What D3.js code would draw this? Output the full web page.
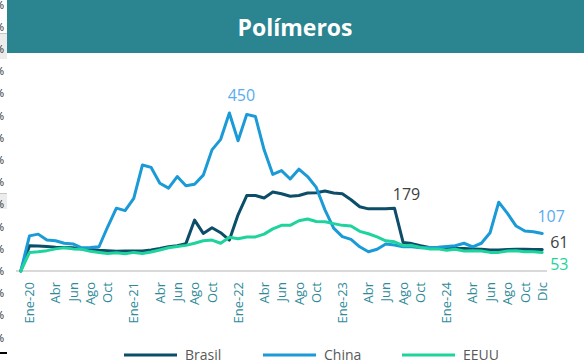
<!DOCTYPE html>
<html>
<head>
<meta charset="utf-8">
<script src="https://cdn.jsdelivr.net/npm/d3@7/dist/d3.min.js"></script>
<style>
  html, body { margin: 0; padding: 0; background: #ffffff; }
  svg { display: block; }
</style>
</head>
<body>
<svg id="chart" width="584" height="363"></svg>
<script>
// Monthly categories (Jan-2020 .. Dec-2024), preceded by an empty starting slot
const etiquetas = [
  "",
  "Ene-20", "", "", "Abr", "", "Jun", "", "Ago", "", "Oct", "", "",
  "Ene-21", "", "", "Abr", "", "Jun", "", "Ago", "", "Oct", "", "",
  "Ene-22", "", "", "Abr", "", "Jun", "", "Ago", "", "Oct", "", "",
  "Ene-23", "", "", "Abr", "", "Jun", "", "Ago", "", "Oct", "", "",
  "Ene-24", "", "", "Abr", "", "Jun", "", "Ago", "", "Oct", "", "Dic"
];

const brasil = [
  0,
  72, 71, 70, 68, 67, 66, 63, 61, 59, 58, 56, 57,
  57, 57, 60, 64, 69, 72, 78, 145, 107, 123, 109, 88,
  160, 215, 215, 208, 225, 220, 213, 215, 222, 223, 228, 222,
  220, 203, 183, 177, 177, 177, 179, 81, 78, 72, 67, 66,
  65, 64, 64, 63, 62, 60, 60, 61, 62, 62, 61, 61
];

const china = [
  0,
  100, 105, 88, 86, 79, 77, 66, 67, 69, 126, 179, 172,
  207, 302, 295, 250, 236, 269, 243, 247, 273, 345, 375, 450,
  371, 446, 440, 345, 275, 286, 262, 290, 269, 238, 174, 122,
  98, 90, 69, 55, 62, 77, 74, 69, 69, 66, 67, 68,
  70, 72, 79, 69, 79, 109, 196, 164, 128, 114, 112, 107
];

const eeuu = [
  0,
  53, 55, 58, 63, 66, 63, 62, 56, 53, 50, 52, 49,
  53, 50, 54, 60, 66, 70, 73, 79, 86, 88, 79, 96,
  92, 97, 97, 105, 120, 130, 130, 143, 148, 141, 140, 135,
  130, 128, 113, 106, 97, 86, 83, 72, 73, 67, 63, 63,
  59, 62, 57, 58, 57, 53, 53, 57, 58, 55, 55, 53
];

const seriesNombres = ["Brasil", "China", "EEUU"];
const seriesColores = ["#0c4d69", "#1a9ad6", "#1ed39c"];
const titulo = "Polímeros";

const svg = d3.select("#chart");
const FONT = "'Open Sans', 'DejaVu Sans', sans-serif";

// Spreadsheet fragments at the left edge
const edge = svg.append("g");
edge.append("rect").attr("x", 0).attr("y", 33).attr("width", 7).attr("height", 26).attr("fill", "#ececec");
edge.append("line").attr("x1", 0).attr("x2", 7).attr("y1", 33.5).attr("y2", 33.5).attr("stroke", "#c6c6c6");
edge.append("rect").attr("x", 0).attr("y", 193).attr("width", 7).attr("height", 16).attr("fill", "#ececec");
edge.append("line").attr("x1", 0).attr("x2", 7).attr("y1", 193.5).attr("y2", 193.5).attr("stroke", "#c6c6c6");
edge.append("rect").attr("x", 0).attr("y", 352).attr("width", 7).attr("height", 2).attr("fill", "#000");
edge.selectAll("text.pct").data(d3.range(16)).join("text")
  .attr("class", "pct")
  .attr("x", -5)
  .attr("y", k => 8.5 + k * 22.2)
  .attr("font-family", FONT).attr("font-size", 11).attr("fill", "#222")
  .text("%");

// Title band
svg.append("rect").attr("x", 7).attr("y", 0).attr("width", 577).attr("height", 53).attr("fill", "#2a8590");
svg.append("text")
  .attr("x", 295).attr("y", 36)
  .attr("text-anchor", "middle")
  .attr("font-family", FONT).attr("font-weight", 700).attr("font-size", 23)
  .attr("fill", "#ffffff")
  .text(titulo);

// Scales
const x = d3.scaleLinear().domain([0, etiquetas.length - 1]).range([20.8, 542.2]);
const y = d3.scaleLinear().domain([0, 450]).range([271, 113]);

// Category axis
svg.append("line")
  .attr("x1", 16).attr("x2", 547)
  .attr("y1", y(0)).attr("y2", y(0))
  .attr("stroke", "#d9d9d9").attr("stroke-width", 2);

const ticks = etiquetas.map((t, i) => ({ t, i })).filter(d => d.t !== "");
svg.append("g").selectAll("text").data(ticks).join("text")
  .attr("transform", d => `translate(${x(d.i)},${282}) rotate(-90)`)
  .attr("text-anchor", "end")
  .attr("dy", "0.36em")
  .attr("font-family", FONT).attr("font-size", 13)
  .attr("fill", "#2f8a9a")
  .text(d => d.t);

// Series lines
const datos = [brasil, china, eeuu];
const line = d3.line().x((d, i) => x(i)).y(d => y(d));
svg.append("g").selectAll("path").data(datos).join("path")
  .attr("d", line)
  .attr("fill", "none")
  .attr("stroke", (d, i) => seriesColores[i])
  .attr("stroke-width", 3)
  .attr("stroke-linejoin", "round")
  .attr("stroke-linecap", "round");

// Value annotations
const last = etiquetas.length - 1;
const notas = [
  { v: china[24], i: 24, dx: 12, dy: -12.5, anchor: "middle", color: "#5aabf0" },
  { v: brasil[43], i: 43, dx: 12, dy: -8, anchor: "middle", color: "#404040" },
  { v: china[last], i: last, dx: 9, dy: -11.5, anchor: "middle", color: "#5aabf0" },
  { v: brasil[last], i: last, dx: 8, dy: -1.5, anchor: "start", color: "#404040" },
  { v: eeuu[last], i: last, dx: 8, dy: 17.5, anchor: "start", color: "#1ed39c" }
];
svg.append("g").selectAll("text").data(notas).join("text")
  .attr("x", d => x(d.i) + d.dx)
  .attr("y", d => y(d.v) + d.dy)
  .attr("text-anchor", d => d.anchor)
  .attr("font-family", FONT).attr("font-size", 16)
  .attr("fill", d => d.color)
  .text(d => d.v);

// Legend
const legendX = [124, 263, 402];
const lg = svg.append("g").selectAll("g").data(seriesNombres).join("g")
  .attr("transform", (d, i) => `translate(${legendX[i]},355)`);
lg.append("line").attr("x1", 0).attr("x2", 53).attr("y1", 0).attr("y2", 0)
  .attr("stroke", (d, i) => seriesColores[i]).attr("stroke-width", 3);
lg.append("text").attr("x", 61).attr("y", 4.5)
  .attr("font-family", FONT).attr("font-size", 14).attr("fill", "#595959")
  .text(d => d);
</script>
</body>
</html>
